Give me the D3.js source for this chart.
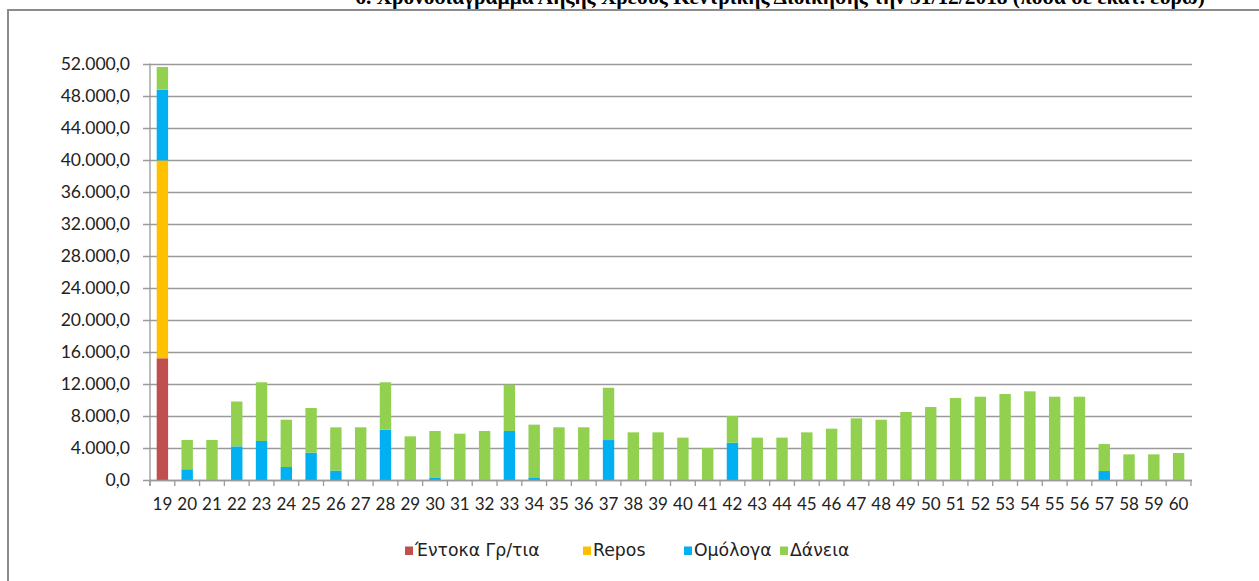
<!DOCTYPE html>
<html><head><meta charset="utf-8">
<script src="https://cdn.jsdelivr.net/npm/d3@7"></script>
<style>body{margin:0;background:#fff}svg{display:block}</style>
</head><body>
<svg id="chart" width="1259" height="581"></svg>
<script>
const years = [19,20,21,22,23,24,25,26,27,28,29,30,31,32,33,34,35,36,37,38,39,40,41,42,43,44,45,46,47,48,49,50,51,52,53,54,55,56,57,58,59,60].map(String);
const entoka = [15200,0,0,0,0,0,0,0,0,0,0,0,0,0,0,0,0,0,0,0,0,0,0,0,0,0,0,0,0,0,0,0,0,0,0,0,0,0,0,0,0,0];
const repos  = [24700,0,0,0,0,0,0,0,0,0,0,0,0,0,0,0,0,0,0,0,0,0,0,0,0,0,0,0,0,0,0,0,0,0,0,0,0,0,0,0,0,0];
const omologa= [8830,1340,0,4200,4870,1620,3410,1170,0,6290,0,250,0,0,6120,330,0,0,4990,0,0,0,0,4660,0,0,0,0,0,0,0,0,0,0,0,0,0,0,1120,0,0,0];
const daneia = [2830,3660,5000,5600,7330,5910,5580,5400,6580,5910,5450,5870,5780,6120,5780,6580,6580,6580,6530,5950,5950,5290,4000,3330,5290,5290,5950,6410,7700,7530,8490,9110,10240,10400,10740,11070,10400,10400,3370,3200,3200,3370];
const yTicks = [0,4000,8000,12000,16000,20000,24000,28000,32000,36000,40000,44000,48000,52000];
const seriesNames = ["Έντοκα Γρ/τια","Repos","Ομόλογα","Δάνεια"];
const seriesColors = ["#C0504D","#FFC000","#00B0F0","#92D050"];
const title = "6. Χρονοδιάγραμμα Λήξης Χρέους Κεντρικής Διοίκησης την 31/12/2018 (ποσά σε εκατ. ευρώ)";

const svg = d3.select("#chart");
const font = "Lato, 'Open Sans', sans-serif";
const pLeft = 150, pRight = 1191, pTop = 63.5, pBottom = 480;

const rows = years.map((y,i)=>({year:y, s0:entoka[i], s1:repos[i], s2:omologa[i], s3:daneia[i]}));
const keys = ["s0","s1","s2","s3"];
const stacked = d3.stack().keys(keys)(rows);

const x = d3.scaleBand().domain(years).range([pLeft,pRight]).paddingInner(0.54).paddingOuter(0.27);
const y = d3.scaleLinear().domain([0,52000]).range([pBottom,pTop]);
const loc = d3.formatLocale({decimal:",",thousands:".",grouping:[3],currency:["","€"]});
const fmt = loc.format(",.1f");

// frame
svg.append("rect").attr("x",8).attr("y",10).attr("width",1270).attr("height",600)
  .attr("fill","none").attr("stroke","#8c8c8c").attr("stroke-width",2);

// title (cut off at top, as in the source)
svg.append("text").attr("x",780).attr("y",4).attr("text-anchor","middle")
  .attr("font-family","'Liberation Serif', serif").attr("font-weight","bold").attr("font-size",21.4)
  .text(title);

// grid
svg.append("g").selectAll("line").data(yTicks).join("line")
  .attr("x1",pLeft-7).attr("x2",pRight+1)
  .attr("y1",d=>Math.round(y(d))+0.5).attr("y2",d=>Math.round(y(d))+0.5)
  .attr("stroke","#9a9a9a").attr("stroke-width",1.3);

// y axis
const yAxis = d3.axisLeft(y).tickValues(yTicks).tickFormat(fmt).tickSize(7).tickPadding(13);
const ga = svg.append("g").attr("transform",`translate(${pLeft},0)`).call(yAxis);
ga.select(".domain").remove();
ga.selectAll(".tick line").remove();
ga.selectAll("text").attr("font-family",font).attr("font-size",17.6).attr("fill","#222");
svg.append("line").attr("x1",pLeft).attr("x2",pLeft).attr("y1",pTop).attr("y2",pBottom+6)
  .attr("stroke","#9a9a9a").attr("stroke-width",1.3);

// bars
svg.append("g").selectAll("g").data(stacked).join("g")
  .attr("fill",(d,i)=>seriesColors[i])
  .selectAll("rect").data(d=>d.filter(p=>p[1]-p[0]>0)).join("rect")
  .attr("x",d=>x(d.data.year)).attr("width",x.bandwidth())
  .attr("y",d=>y(d[1])).attr("height",d=>y(d[0])-y(d[1]));

// x axis
const xAxis = d3.axisBottom(x).tickSize(0).tickPadding(18);
const gx = svg.append("g").attr("transform",`translate(0,${pBottom})`).call(xAxis);
gx.select(".domain").remove();
gx.selectAll("text").attr("font-family",font).attr("font-size",17).attr("fill","#222");
svg.append("line").attr("x1",pLeft).attr("x2",pRight+1).attr("y1",pBottom+0.5).attr("y2",pBottom+0.5)
  .attr("stroke","#9a9a9a").attr("stroke-width",1.3);
const step = x.step();
svg.append("g").selectAll("line").data(d3.range(years.length+1)).join("line")
  .attr("x1",i=>pLeft+i*step).attr("x2",i=>pLeft+i*step)
  .attr("y1",pBottom).attr("y2",pBottom+6).attr("stroke","#9a9a9a").attr("stroke-width",1.3);

// legend
const legX = [405, 583, 684, 780];
const lg = svg.append("g").selectAll("g").data(seriesNames).join("g")
  .attr("transform",(d,i)=>`translate(${legX[i]},546.5)`);
lg.append("rect").attr("width",8).attr("height",8.5).attr("fill",(d,i)=>seriesColors[i]);
lg.append("text").attr("x",10).attr("y",9.3).attr("font-family","'DejaVu Sans', sans-serif").attr("font-size",17.3)
  .attr("fill","#222").text(d=>d);
</script>
</body></html>
